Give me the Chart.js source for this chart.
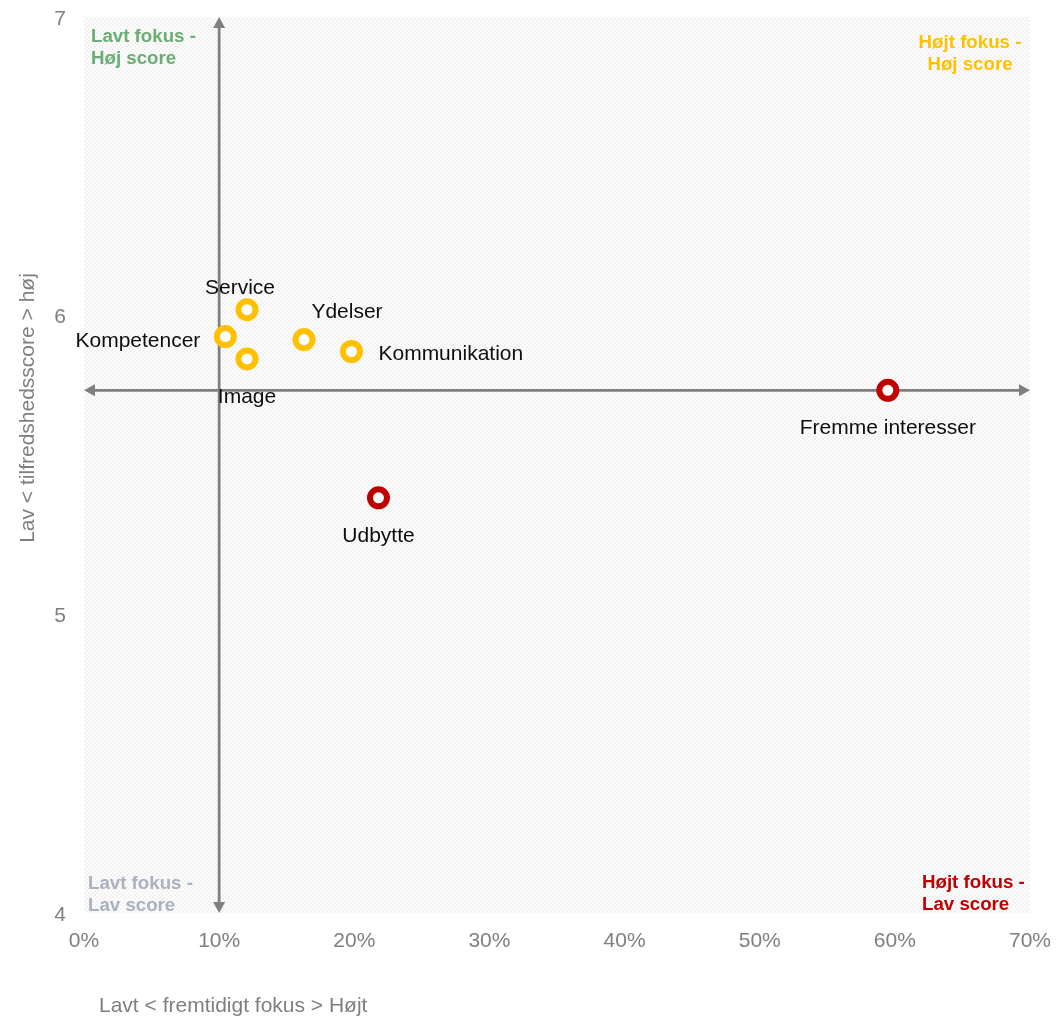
<!DOCTYPE html>
<html lang="da">
<head>
<meta charset="utf-8">
<title>Fremtidigt fokus og tilfredshedsscore</title>
<script src="https://cdn.jsdelivr.net/npm/chart.js@4.4.1/dist/chart.umd.min.js"></script>
<style>
  html, body { margin: 0; padding: 0; background: #ffffff; }
  #wrap { width: 1059px; height: 1016px; position: relative; }
</style>
</head>
<body>
<div id="wrap"><canvas id="chart"></canvas></div>
<script>
// ---- data ----
const categories   = ['Service', 'Kompetencer', 'Image', 'Ydelser', 'Kommunikation', 'Fremme interesser', 'Udbytte'];
const focusPct     = [12.06, 10.46, 12.06, 16.28, 19.79, 59.48, 21.79];   // fremtidigt fokus, %
const satisfaction = [6.02, 5.93, 5.855, 5.92, 5.88, 5.75, 5.39];        // tilfredshedsscore
const status       = ['god', 'god', 'god', 'god', 'god', 'kritisk', 'kritisk'];
const xTickValues  = [0, 10, 20, 30, 40, 50, 60, 70];
const yTickValues  = [4, 5, 6, 7];
const crossFocus   = 10;     // vertical divider, %
const crossScore   = 5.75;   // horizontal divider
const xTitle = 'Lavt < fremtidigt fokus > Højt';
const yTitle = 'Lav < tilfredshedsscore > høj';
const quadrantText = {
  topLeft:     ['Lavt fokus -', 'Høj score'],
  topRight:    ['Højt fokus -', 'Høj score'],
  bottomLeft:  ['Lavt fokus -', 'Lav score'],
  bottomRight: ['Højt fokus -', 'Lav score']
};

// ---- styling ----
const FONT = '"Liberation Sans", Arial, Helvetica, sans-serif';
const GREY = '#7f7f7f';
const statusColor = { god: '#ffc000', kritisk: '#c00000' };

// label placement around each marker
const labelPlacement = {
  'Service':           { dx: -7,  dy: -21, align: 'center' },
  'Kompetencer':       { dx: -25, dy: 5,   align: 'right'  },
  'Image':             { dx: 0,   dy: 38,  align: 'center' },
  'Ydelser':           { dx: 43,  dy: -27, align: 'center' },
  'Kommunikation':     { dx: 27,  dy: 3,   align: 'left'   },
  'Fremme interesser': { dx: 0,   dy: 38,  align: 'center' },
  'Udbytte':           { dx: 0,   dy: 38,  align: 'center' }
};

function makeTexture(ctx) {
  const c = document.createElement('canvas');
  c.width = 4; c.height = 4;
  const g = c.getContext('2d');
  g.fillStyle = '#fefefe';
  g.fillRect(0, 0, 4, 4);
  g.fillStyle = '#f2f2f2';
  g.fillRect(0, 0, 2, 2);
  g.fillRect(2, 2, 2, 2);
  return ctx.createPattern(c, 'repeat');
}

// textured plot area
const plotBackground = {
  id: 'plotBackground',
  beforeDraw(chart) {
    const { ctx, chartArea: a } = chart;
    ctx.save();
    ctx.fillStyle = makeTexture(ctx);
    ctx.fillRect(a.left, a.top, a.right - a.left, a.bottom - a.top);
    ctx.restore();
  }
};

function arrowHead(ctx, x, y, dir) {
  const len = 11, half = 6;
  ctx.beginPath();
  if (dir === 'up')    { ctx.moveTo(x, y); ctx.lineTo(x - half, y + len); ctx.lineTo(x + half, y + len); }
  if (dir === 'down')  { ctx.moveTo(x, y); ctx.lineTo(x - half, y - len); ctx.lineTo(x + half, y - len); }
  if (dir === 'left')  { ctx.moveTo(x, y); ctx.lineTo(x + len, y - half); ctx.lineTo(x + len, y + half); }
  if (dir === 'right') { ctx.moveTo(x, y); ctx.lineTo(x - len, y - half); ctx.lineTo(x - len, y + half); }
  ctx.closePath();
  ctx.fill();
}

// crossing divider arrows and quadrant captions
const quadrants = {
  id: 'quadrants',
  beforeDatasetsDraw(chart) {
    const { ctx, chartArea: a, scales: { x, y } } = chart;
    const cx = x.getPixelForValue(crossFocus);
    const cy = y.getPixelForValue(crossScore);
    ctx.save();
    ctx.strokeStyle = GREY;
    ctx.fillStyle = GREY;
    ctx.lineWidth = 2.75;
    ctx.beginPath();
    ctx.moveTo(cx, a.top + 8); ctx.lineTo(cx, a.bottom - 8);
    ctx.moveTo(a.left + 8, cy); ctx.lineTo(a.right - 8, cy);
    ctx.stroke();
    arrowHead(ctx, cx, a.top, 'up');
    arrowHead(ctx, cx, a.bottom, 'down');
    arrowHead(ctx, a.left, cy, 'left');
    arrowHead(ctx, a.right, cy, 'right');

    ctx.font = 'bold 18.7px ' + FONT;
    ctx.textBaseline = 'middle';
    const put = (lines, color, xpos, ytop, align) => {
      ctx.fillStyle = color;
      ctx.textAlign = align;
      lines.forEach((t, i) => ctx.fillText(t, xpos, ytop + i * 22));
    };
    put(quadrantText.topLeft,     '#6aae74', a.left + 7,   a.top + 20,    'left');
    put(quadrantText.topRight,    '#ffc000', a.right - 60, a.top + 26,    'center');
    put(quadrantText.bottomLeft,  '#aab1bf', a.left + 4,   a.bottom - 29, 'left');
    put(quadrantText.bottomRight, '#c00000', a.right - 108, a.bottom - 30, 'left');
    ctx.restore();
  }
};

// category names beside the markers
const pointNames = {
  id: 'pointNames',
  afterDatasetsDraw(chart) {
    const { ctx } = chart;
    const meta = chart.getDatasetMeta(0);
    ctx.save();
    ctx.font = '21px ' + FONT;
    ctx.fillStyle = '#0d0d0d';
    ctx.textBaseline = 'middle';
    meta.data.forEach((pt, i) => {
      const name = categories[i];
      const p = labelPlacement[name];
      ctx.textAlign = p.align;
      ctx.fillText(name, pt.x + p.dx, pt.y + p.dy);
    });
    ctx.restore();
  }
};

// axis titles
const axisTitles = {
  id: 'axisTitles',
  afterDraw(chart) {
    const { ctx } = chart;
    ctx.save();
    ctx.font = '21px ' + FONT;
    ctx.fillStyle = GREY;
    ctx.textBaseline = 'middle';
    ctx.textAlign = 'left';
    ctx.fillText(xTitle, 99, 1006);
    ctx.translate(28, 408);
    ctx.rotate(-Math.PI / 2);
    ctx.textAlign = 'center';
    ctx.fillText(yTitle, 0, 0);
    ctx.restore();
  }
};

const points = focusPct.map((v, i) => ({ x: v, y: satisfaction[i] }));
const colors = status.map(s => statusColor[s]);

new Chart(document.getElementById('chart'), {
  type: 'scatter',
  data: {
    datasets: [{
      label: 'Områder',
      data: points,
      pointRadius: 8.5,
      pointHoverRadius: 8.5,
      pointBorderWidth: 6,
      pointHoverBorderWidth: 6,
      pointBackgroundColor: '#ffffff',
      pointBorderColor: colors,
      pointHoverBorderColor: colors
    }]
  },
  options: {
    responsive: true,
    maintainAspectRatio: false,
    animation: false,
    events: [],
    layout: { padding: { top: 17, right: 29, left: 0, bottom: 0 } },
    plugins: { legend: { display: false }, tooltip: { enabled: false } },
    scales: {
      x: {
        type: 'linear',
        min: xTickValues[0],
        max: xTickValues[xTickValues.length - 1],
        grid: { display: false, drawTicks: false },
        border: { display: false },
        afterBuildTicks: s => { s.ticks = xTickValues.map(v => ({ value: v })); },
        ticks: {
          callback: v => v + '%',
          color: GREY,
          font: { family: FONT, size: 21 },
          padding: 16,
          maxRotation: 0,
          autoSkip: false
        },
        afterFit: s => { s.height = 103; s.paddingLeft = 0; s.paddingRight = 0; }
      },
      y: {
        type: 'linear',
        min: yTickValues[0],
        max: yTickValues[yTickValues.length - 1],
        grid: { display: false, drawTicks: false },
        border: { display: false },
        afterBuildTicks: s => { s.ticks = yTickValues.map(v => ({ value: v })); },
        ticks: {
          color: GREY,
          font: { family: FONT, size: 21 },
          padding: 18,
          labelOffset: 2,
          autoSkip: false
        },
        afterFit: s => { s.width = 84; s.paddingTop = 0; s.paddingBottom = 0; }
      }
    }
  },
  plugins: [plotBackground, quadrants, pointNames, axisTitles]
});
</script>
</body>
</html>
